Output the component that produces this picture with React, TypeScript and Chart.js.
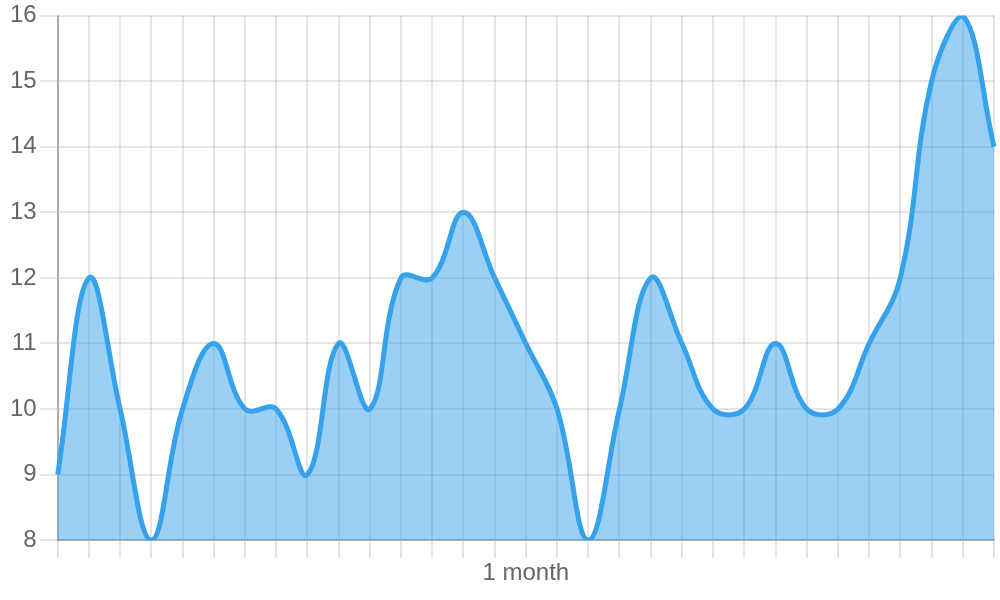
import React, { useEffect, useRef } from "react";
import { Chart, registerables } from "chart.js";

Chart.register(...registerables);

const days: string[] = [
  "1", "2", "3", "4", "5", "6", "7", "8", "9", "10",
  "11", "12", "13", "14", "15", "16", "17", "18", "19", "20",
  "21", "22", "23", "24", "25", "26", "27", "28", "29", "30", "31",
];

const values: number[] = [
  9, 12, 10, 8, 10, 11, 10, 10, 9, 11,
  10, 12, 12, 13, 12, 11, 10, 8, 10, 12,
  11, 10, 10, 11, 10, 10, 11, 12, 15, 16, 14,
];

const xTitle = "1 month";
const yMin = 8;
const yMax = 16;

export default function App() {
  const ref = useRef<HTMLCanvasElement | null>(null);

  useEffect(() => {
    document.body.style.margin = "0";
    if (!ref.current) return;
    const font = { family: "'Liberation Sans', Arial, sans-serif", size: 24 };
    const chart = new Chart(ref.current, {
      type: "line",
      data: {
        labels: days,
        datasets: [
          {
            data: values,
            borderColor: "rgb(54, 162, 235)",
            backgroundColor: "rgba(54, 162, 235, 0.5)",
            borderWidth: 5,
            fill: true,
            tension: 0.4,
            pointRadius: 0,
            pointHoverRadius: 0,
          },
        ],
      },
      options: {
        animation: false,
        responsive: false,
        maintainAspectRatio: false,
        layout: { padding: { left: 7, right: 6, top: 0, bottom: 8 } },
        plugins: { legend: { display: false }, tooltip: { enabled: false } },
        scales: {
          x: {
            type: "category",
            offset: false,
            grid: {
              color: "rgba(0,0,0,0.1)",
              lineWidth: 2,
              tickLength: 18,
            },
            border: { color: "rgba(0,0,0,0.25)", width: 2 },
            ticks: { display: false },
            title: {
              display: true,
              text: xTitle,
              color: "#666",
              font,
              padding: { top: 1, bottom: 4 },
            },
          },
          y: {
            min: yMin,
            max: yMax,
            grid: {
              color: "rgba(0,0,0,0.1)",
              lineWidth: 2,
              tickLength: 18,
            },
            border: { color: "rgba(0,0,0,0.25)", width: 2 },
            ticks: {
              stepSize: 1,
              color: "#666",
              font: { ...font, lineHeight: 1.05 },
              padding: 3,
            },
          },
        },
      },
    });
    return () => chart.destroy();
  }, []);

  return (
    <div style={{ position: "absolute", left: 0, top: 0, width: 1000, height: 600 }}>
      <canvas ref={ref} width={1000} height={600} style={{ width: 1000, height: 600 }} />
    </div>
  );
}
